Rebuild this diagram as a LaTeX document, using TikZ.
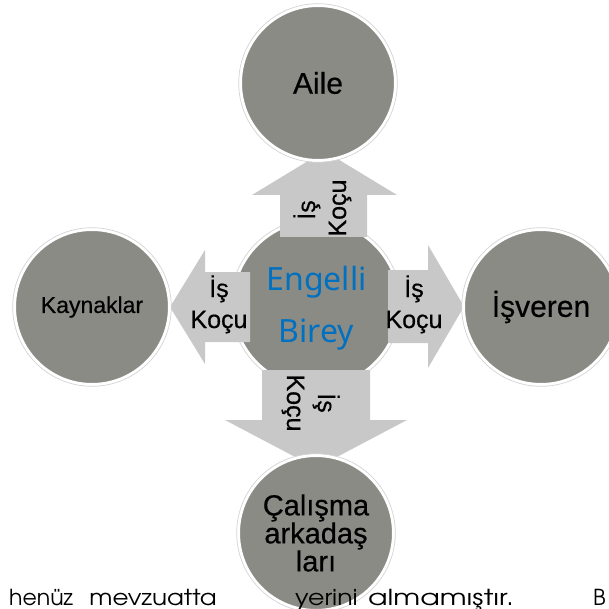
\documentclass[tikz,border=0pt]{standalone}
\usepackage{fontspec}
\setmainfont{Liberation Sans}[FakeBold=0.5]
\newfontfamily\bluefont{Noto Sans}
\newfontfamily\docfont{TeX Gyre Adventor}
\definecolor{circgrey}{RGB}{139,139,133}
\definecolor{arrowgrey}{RGB}{200,200,200}
\definecolor{ringgrey}{RGB}{212,212,212}
\definecolor{engblue}{RGB}{0,112,192}
\begin{document}
\begin{tikzpicture}[x=1pt,y=-1pt,
  bubble/.style={circle, fill=circgrey, draw=white, line width=3pt, inner sep=0pt, minimum size=#1, text=black},
  ringline/.style={draw=ringgrey, line width=0.7pt},
  blockarrow/.style={fill=arrowgrey, draw=none},
  lab/.style={font=\fontsize{25}{25}\selectfont, anchor=base, inner sep=0pt},
  bluetext/.style={font=\bluefont\fontsize{32}{32}\selectfont, text=engblue, anchor=base, inner sep=0pt},
  doctext/.style={font=\docfont\fontsize{22}{22}\selectfont, inner sep=0pt}]
\useasboundingbox (0,0) rectangle (609,609);
\clip (0,0) rectangle (609,609);
\fill[white] (0,0) rectangle (609,609);

% centre circle
\node[bubble=167pt] (center) at (316,304) {};
\draw[ringline] (center.center) circle (85.3);

% block arrows
\fill[blockarrow] (280,237) -- (280,195) -- (252,195) -- (324.5,151) -- (397,195) -- (367,195) -- (367,237) -- cycle;
\fill[blockarrow] (250,272) -- (205,272) -- (205,250) -- (170,307) -- (205,364) -- (205,342) -- (250,342) -- cycle;
\fill[blockarrow] (388,270) -- (428,270) -- (428,245) -- (464,306.5) -- (428,368) -- (428,343) -- (388,343) -- cycle;
\fill[blockarrow] (262,370) -- (262,420) -- (225,420) -- (316,468) -- (407,420) -- (370,420) -- (370,370) -- cycle;

% arrow labels
\node[lab] (lis) at (219,297) {İş};
\node[lab] (lko) at (219,328) {Koçu};
\node[lab] (ris) at (414,297) {İş};
\node[lab] (rko) at (414,328) {Koçu};
\node[lab, rotate=90] (uis) at (315,210) {İş};
\node[lab, rotate=90] (uko) at (346,208) {Koçu};
\node[lab, rotate=-90] (dis) at (318,403) {İş};
\node[lab, rotate=-90] (dko) at (287,403) {Koçu};

% centre text
\node[bluetext] (eng) at (316.5,290) {Engelli};
\node[bluetext] (bir) at (316.5,342) {Birey};

% outer circles
\node[bubble=155pt, font=\fontsize{30}{30}\selectfont] (aile) at (318,83) {Aile};
\draw[ringline] (aile.center) circle (79.3);
\node[bubble=155pt, font=\fontsize{23}{23}\selectfont] (kay) at (92,307) {Kaynaklar};
\draw[ringline] (kay.center) circle (79.3);
\node[bubble=155pt, font=\fontsize{30}{30}\selectfont] (isv) at (541,307) {İşveren};
\draw[ringline] (isv.center) circle (79.3);
\node[bubble=155pt, font=\fontsize{29}{28}\selectfont, align=center] (cal) at (316,533) {Çalışma\\arkadaş\\ları};
\draw[ringline] (cal.center) circle (79.3);

% document text below
\node[doctext, anchor=base west] (t1) at (9,605) {henüz};
\node[doctext, anchor=base east] (t2) at (217,605) {\scalebox{1.12}[1]{mevzuatta}};
\node[doctext, anchor=base west] (t3) at (295,605) {\scalebox{1.15}[1]{yerini}};
\node[doctext, anchor=base west] (t4) at (368,605) {\scalebox{1.3}[1]{almamıştır.}};
\node[doctext, anchor=base west] (t5) at (593,605) {B};
\end{tikzpicture}
\end{document}
